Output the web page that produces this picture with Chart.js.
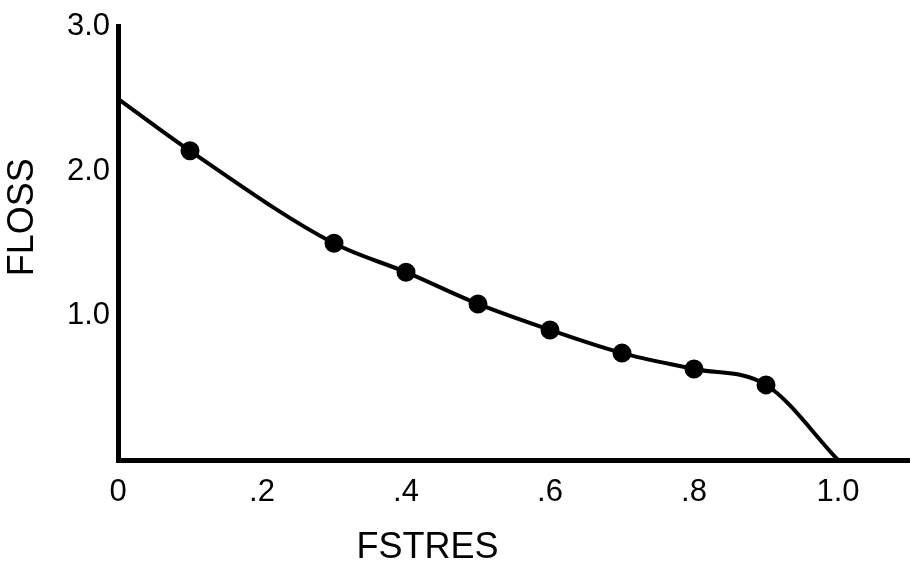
<!DOCTYPE html>
<html>
<head>
<meta charset="utf-8">
<script src="https://cdn.jsdelivr.net/npm/chart.js@4/dist/chart.umd.min.js"></script>
<style>
  html, body { margin: 0; padding: 0; background: #ffffff; }
  #wrap { width: 910px; height: 565px; }
</style>
</head>
<body>
<div id="wrap"><canvas id="c" width="910" height="565"></canvas></div>
<script>
// ---- data ----
const fstres = [0, 0.1, 0.3, 0.4, 0.5, 0.6, 0.7, 0.8, 0.9, 1.0];
const floss  = [2.5, 2.14, 1.50, 1.30, 1.08, 0.90, 0.74, 0.63, 0.52, 0];
const markerShown = [false, true, true, true, true, true, true, true, true, false];
const xTickValues = [0, 0.2, 0.4, 0.6, 0.8, 1.0];
const xTickLabels = ['0', '.2', '.4', '.6', '.8', '1.0'];
const yTickValues = [1, 2, 3];
const yTickLabels = ['1.0', '2.0', '3.0'];
const xTitle = 'FSTRES';
const yTitle = 'FLOSS';

const points = fstres.map((x, i) => ({ x: x, y: floss[i] }));
const FONT = "'Liberation Sans', Arial, sans-serif";

const titlePlugin = {
  id: 'axisTitles',
  afterDraw(chart) {
    const ctx = chart.ctx;
    const xs = chart.scales.x, ys = chart.scales.y;
    ctx.save();
    ctx.fillStyle = '#000';
    ctx.font = '36px ' + FONT;
    ctx.textAlign = 'center';
    ctx.textBaseline = 'middle';
    ctx.fillText(xTitle, xs.getPixelForValue(0.43), 548);
    ctx.translate(23, ys.getPixelForValue(1.68));
    ctx.rotate(-Math.PI / 2);
    ctx.fillText(yTitle, 0, 0);
    ctx.restore();
  }
};

new Chart(document.getElementById('c'), {
  type: 'line',
  data: {
    datasets: [{
      data: points,
      borderColor: '#000',
      borderWidth: 4,
      backgroundColor: '#000',
      pointBackgroundColor: '#000',
      pointBorderColor: '#000',
      pointRadius: markerShown.map(s => s ? 7.5 : 0),
      pointHoverRadius: markerShown.map(s => s ? 7.5 : 0),
      cubicInterpolationMode: 'monotone',
      fill: false,
      clip: false
    }]
  },
  options: {
    responsive: false,
    animation: false,
    events: [],
    layout: { padding: { top: 25, right: 0, bottom: 0, left: 0 } },
    plugins: { legend: { display: false }, tooltip: { enabled: false }, title: { display: false } },
    scales: {
      x: {
        type: 'linear',
        min: 0,
        max: 1.1,
        grid: { display: false, drawTicks: false },
        border: { display: true, color: '#000', width: 5 },
        afterBuildTicks(scale) { scale.ticks = xTickValues.map(v => ({ value: v })); },
        ticks: {
          color: '#000',
          font: { family: FONT, size: 31 },
          padding: 14,
          maxRotation: 0,
          autoSkip: false,
          callback(value) { const i = xTickValues.indexOf(value); return i >= 0 ? xTickLabels[i] : ''; }
        },
        afterFit(scale) { scale.height = 105; }
      },
      y: {
        type: 'linear',
        min: 0,
        max: 3,
        grid: { display: false, drawTicks: false },
        border: { display: true, color: '#000', width: 5 },
        afterBuildTicks(scale) { scale.ticks = yTickValues.map(v => ({ value: v })); },
        ticks: {
          color: '#000',
          font: { family: FONT, size: 31 },
          padding: 8,
          autoSkip: false,
          callback(value) { const i = yTickValues.indexOf(value); return i >= 0 ? yTickLabels[i] : ''; }
        },
        afterFit(scale) { scale.width = 118; }
      }
    }
  },
  plugins: [titlePlugin]
});
</script>
</body>
</html>
